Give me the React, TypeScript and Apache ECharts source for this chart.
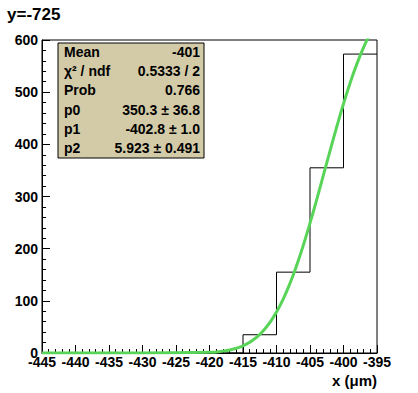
import React, { useEffect, useRef } from "react";
import * as echarts from "echarts";

const binLows = [-445, -440, -435, -430, -425, -420, -415, -410, -405, -400];
const binCounts = [0, 0, 0, 0, 0, 0, 35, 155, 355, 573];
const histHigh = -395;

const fitX = [-445, -430, -420, -418, -417, -416, -415, -414, -413, -412, -411, -410, -409, -408, -407, -406, -405, -404, -403, -402, -401, -400, -399, -398, -397, -396];
const fitY = [0, 0, 1.3, 3.6, 5.8, 9.0, 13.8, 20.5, 29.8, 42.2, 58.3, 78.4, 103.4, 133.1, 167.5, 206.4, 248.9, 294.0, 340.8, 387.9, 434.0, 477.7, 518.1, 554.2, 585.8, 612.7];

const statLabels = ["Mean", "χ² / ndf", "Prob", "p0", "p1", "p2"];
const statValues = ["-401", "0.5333 / 2", "0.766", "350.3 ± 36.8", "-402.8 ± 1.0", "5.923 ± 0.491"];

const titleText = "y=-725";
const xTitle = "x (μm)";

const FONT = "'Liberation Sans', Arial, sans-serif";

export default function App() {
  const ref = useRef<HTMLDivElement>(null);
  useEffect(() => {
    if (!ref.current) return;
    const chart = echarts.init(ref.current, undefined, { renderer: "svg" });
    const histData: [number, number][] = binLows.map((x, i) => [x, binCounts[i]]);
    histData.push([histHigh, binCounts[binCounts.length - 1]]);
    const fitData = fitX.map((x, i) => [x, fitY[i]]);

    const rowTop = 52;
    const rowH = 19.2;
    const statChildren: any[] = [
      {
        type: "rect",
        shape: { x: 58, y: 43, width: 146, height: 115 },
        style: { fill: "#d3cba8", stroke: "#000", lineWidth: 1 },
      },
    ];
    statLabels.forEach((l, i) => {
      statChildren.push({
        type: "text",
        x: 64,
        y: rowTop + i * rowH,
        style: { text: l, font: `bold 14px ${FONT}`, fill: "#000", textAlign: "left", textVerticalAlign: "middle" },
      });
      statChildren.push({
        type: "text",
        x: 200,
        y: rowTop + i * rowH,
        style: { text: statValues[i], font: `bold 14px ${FONT}`, fill: "#000", textAlign: "right", textVerticalAlign: "middle" },
      });
    });

    chart.setOption({
      animation: false,
      backgroundColor: "#fff",
      grid: {
        left: 42,
        right: 41,
        top: 40,
        bottom: 40,
        show: true,
        borderColor: "#000",
        borderWidth: 1,
        backgroundColor: "transparent",
      },
      xAxis: {
        type: "value",
        min: -445,
        max: -395,
        interval: 5,
        axisLine: { show: true, onZero: false, lineStyle: { color: "#000", width: 1 } },
        axisTick: { show: true, inside: true, length: 8, lineStyle: { color: "#000" } },
        minorTick: { show: true, splitNumber: 5, length: 4, lineStyle: { color: "#000" } },
        splitLine: { show: false },
        axisLabel: { color: "#000", fontFamily: FONT, fontWeight: "bold", fontSize: 14, margin: 2 },
      },
      yAxis: {
        type: "value",
        min: 0,
        max: 600,
        interval: 100,
        axisLine: { show: true, lineStyle: { color: "#000", width: 1 } },
        axisTick: { show: true, inside: true, length: 8, lineStyle: { color: "#000" } },
        minorTick: { show: true, splitNumber: 5, length: 4, lineStyle: { color: "#000" } },
        splitLine: { show: false },
        axisLabel: { color: "#000", fontFamily: FONT, fontWeight: "bold", fontSize: 14, margin: 4 },
      },
      series: [
        {
          type: "line",
          data: histData,
          step: "end",
          symbol: "none",
          lineStyle: { color: "#000", width: 1 },
          z: 2,
        },
        {
          type: "line",
          data: fitData,
          smooth: true,
          symbol: "none",
          clip: true,
          lineStyle: { color: "#58d458", width: 3 },
          z: 3,
        },
      ],
      graphic: [
        {
          type: "text",
          x: 7,
          y: 14,
          style: { text: titleText, font: `bold 17px ${FONT}`, fill: "#000", textAlign: "left", textVerticalAlign: "middle" },
        },
        {
          type: "text",
          x: 377,
          y: 380,
          style: { text: xTitle, font: `bold 15px ${FONT}`, fill: "#000", textAlign: "right", textVerticalAlign: "middle" },
        },
        { type: "group", children: statChildren, z: 10 },
      ],
    });
    return () => chart.dispose();
  }, []);
  return <div ref={ref} style={{ width: 418, height: 393, position: "absolute", left: 0, top: 0 }} />;
}
